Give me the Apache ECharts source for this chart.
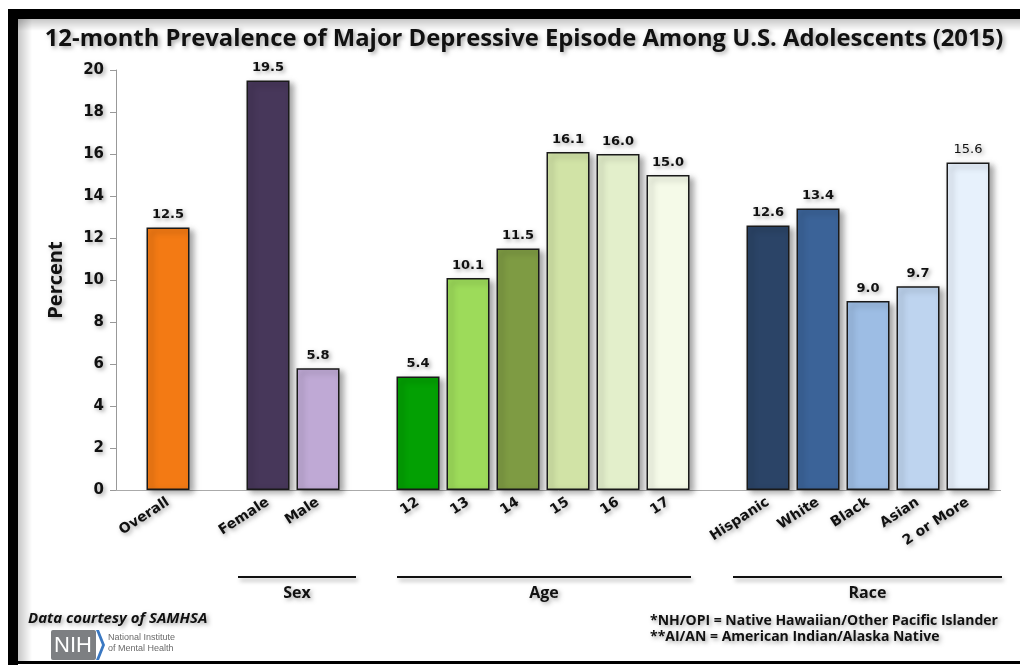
<!DOCTYPE html>
<html>
<head>
<meta charset="utf-8">
<script src="https://cdn.jsdelivr.net/npm/echarts@6/dist/echarts.min.js"></script>
<style>
  html, body { margin: 0; padding: 0; background: #fff; }
  #main { width: 1020px; height: 665px; }
</style>
</head>
<body>
<div id="main"></div>
<script>
// data
const overallLabels = ['Overall']
const overallValues = [12.5]
const sexLabels = ['Female', 'Male']
const sexValues = [19.5, 5.8]
const ageLabels = ['12', '13', '14', '15', '16', '17']
const ageValues = [5.4, 10.1, 11.5, 16.1, 16.0, 15.0]
const raceLabels = ['Hispanic', 'White', 'Black', 'Asian', '2 or More']
const raceValues = [12.6, 13.4, 9.0, 9.7, 15.6]
const groupNames = ['Sex', 'Age', 'Race']
const yTicks = [0, 2, 4, 6, 8, 10, 12, 14, 16, 18, 20]

// bar colours, same order as the labels
const overallColors = ['#F37A14']
const sexColors = ['#47375A', '#BFA9D5']
const ageColors = ['#03A003', '#9DDB5A', '#7E9B43', '#D1E3A6', '#E3EFCB', '#F5FAE8']
const raceColors = ['#2B4467', '#3B6398', '#9DBDE4', '#BED4EF', '#E7F1FC']

const shadow = { textShadowColor: 'rgba(0,0,0,0.35)', textShadowBlur: 4, textShadowOffsetX: 2, textShadowOffsetY: 2 }

// build the slots: blank spacer between the groups
const categories = []
const barData = []
const groupSpan = {}
let spacer = 0
function addSpacer() {
    categories.push('_s' + (spacer++))
    barData.push(null)
}
function addGroup(name, labels, values, colors) {
    const start = categories.length
    labels.forEach((l, i) => {
        categories.push(l)
        barData.push({
            value: values[i],
            itemStyle: { color: colors[i] },
            label: { fontWeight: l === '2 or More' ? 'normal' : 'bold' }
        })
    })
    if (name) groupSpan[name] = [start, categories.length - 1]
}
addSpacer()
addGroup(null, overallLabels, overallValues, overallColors)
addSpacer()
addGroup('Sex', sexLabels, sexValues, sexColors)
addSpacer()
addGroup('Age', ageLabels, ageValues, ageColors)
addSpacer()
addGroup('Race', raceLabels, raceValues, raceColors)

const myChart = echarts.init(document.querySelector('#main'))

const option = {
    animation: false,
    title: {
        text: '12-month Prevalence of Major Depressive Episode Among U.S. Adolescents (2015)',
        left: 519,
        textAlign: 'center',
        top: 22,
        textStyle: {
            fontFamily: 'Open Sans',
            fontWeight: 'bold',
            fontSize: 23.8,
            color: '#111',
            ...shadow
        }
    },
    grid: {
        left: 93,
        width: 900,
        top: 70,
        bottom: 175
    },
    xAxis: {
        type: 'category',
        data: categories,
        axisLine: { show: false },
        axisTick: { show: false },
        axisLabel: {
            interval: 0,
            rotate: 33,
            margin: 11,
            fontFamily: 'DejaVu Sans',
            fontWeight: 'bold',
            fontSize: 14,
            color: '#111',
            ...shadow,
            formatter: v => v.startsWith('_s') ? '' : v
        }
    },
    yAxis: {
        type: 'value',
        min: 0,
        max: 20,
        interval: 2,
        offset: -23,
        name: 'Percent',
        nameLocation: 'middle',
        nameGap: 50,
        nameRotate: 90,
        nameTextStyle: {
            fontFamily: 'Open Sans',
            fontWeight: 'bold',
            fontSize: 20,
            color: '#111',
            ...shadow
        },
        splitLine: { show: false },
        axisLine: { show: true, lineStyle: { color: '#999' } },
        axisTick: { show: true, length: 6, lineStyle: { color: '#999' } },
        axisLabel: {
            margin: 12,
            fontFamily: 'DejaVu Sans',
            fontWeight: 'bold',
            fontSize: 15,
            color: '#111',
            ...shadow,
            formatter: v => yTicks.includes(v) ? String(v) : ''
        }
    },
    series: [{
        type: 'bar',
        data: barData,
        barWidth: 43,
        itemStyle: {
            borderColor: '#1a1a1a',
            borderWidth: 1.5,
            shadowColor: 'rgba(0,0,0,0.35)',
            shadowBlur: 6,
            shadowOffsetX: 4,
            shadowOffsetY: 3
        },
        label: {
            show: true,
            position: 'top',
            distance: 6,
            fontFamily: 'DejaVu Sans',
            fontSize: 13,
            color: '#111',
            ...shadow,
            formatter: p => p.value.toFixed(1)
        }
    }]
}
myChart.setOption(option)

// frame, footer, baseline and group brackets
function initGraphic() {
    const base = myChart.convertToPixel({ yAxisIndex: 0 }, 0)
    const els = [
        { type: 'rect', shape: { x: 8, y: 9, width: 1012, height: 10 }, style: { fill: '#000' } },
        { type: 'rect', shape: { x: 8, y: 9, width: 10, height: 656 }, style: { fill: '#000' } },
        { type: 'rect', shape: { x: 8, y: 661, width: 1012, height: 3 }, style: { fill: '#000' } },
        {
            type: 'rect', shape: { x: 18, y: 19, width: 14, height: 642 },
            style: { fill: new echarts.graphic.LinearGradient(0, 0, 1, 0, [{ offset: 0, color: 'rgba(0,0,0,0.22)' }, { offset: 1, color: 'rgba(0,0,0,0)' }]) }
        },
        {
            type: 'rect', shape: { x: 18, y: 19, width: 1002, height: 12 },
            style: { fill: new echarts.graphic.LinearGradient(0, 0, 0, 1, [{ offset: 0, color: 'rgba(0,0,0,0.22)' }, { offset: 1, color: 'rgba(0,0,0,0)' }]) }
        },
        // x baseline, from the y axis to the right end
        { type: 'line', z: 1, shape: { x1: 116, y1: base + 0.5, x2: 1001, y2: base + 0.5 }, style: { stroke: '#aaa', lineWidth: 1 } },
        {
            type: 'text', x: 28, y: 619,
            style: { text: 'Data courtesy of SAMHSA', font: 'italic bold 15px "Open Sans"', fill: '#111', verticalAlign: 'middle', ...shadow }
        },
        { type: 'rect', shape: { x: 51, y: 630, width: 45, height: 30, r: 2 }, style: { fill: '#7d7f82' } },
        { type: 'polygon', shape: { points: [[96, 630], [99, 630], [105, 645], [99, 660], [96, 660], [102, 645]] }, style: { fill: '#3a78c2' } },
        { type: 'text', x: 73, y: 646, style: { text: 'NIH', font: '22px "Liberation Sans"', fill: '#fff', align: 'center', verticalAlign: 'middle' } },
        { type: 'text', x: 108, y: 638, style: { text: 'National Institute', font: '9px "Liberation Sans"', fill: '#6b6b6b', verticalAlign: 'middle' } },
        { type: 'text', x: 108, y: 649, style: { text: 'of Mental Health', font: '9px "Liberation Sans"', fill: '#6b6b6b', verticalAlign: 'middle' } },
        {
            type: 'text', x: 650, y: 621,
            style: { text: '*NH/OPI = Native Hawaiian/Other Pacific Islander', font: 'bold 14px "Open Sans"', fill: '#111', verticalAlign: 'middle', ...shadow }
        },
        {
            type: 'text', x: 650, y: 637,
            style: { text: '**AI/AN = American Indian/Alaska Native', font: 'bold 14px "Open Sans"', fill: '#111', verticalAlign: 'middle', ...shadow }
        }
    ]
    const pads = { Sex: [30, 38], Age: [21, 23], Race: [35, 34] }
    groupNames.forEach(g => {
        const [a, b] = groupSpan[g]
        const x1 = myChart.convertToPixel({ xAxisIndex: 0 }, a) - pads[g][0]
        const x2 = myChart.convertToPixel({ xAxisIndex: 0 }, b) + pads[g][1]
        els.push({
            type: 'line', shape: { x1: x1, y1: 577, x2: x2, y2: 577 },
            style: { stroke: '#111', lineWidth: 2, shadowColor: 'rgba(0,0,0,0.35)', shadowBlur: 4, shadowOffsetX: 2, shadowOffsetY: 3 }
        })
        els.push({
            type: 'text', x: (x1 + x2) / 2, y: 593,
            style: { text: g, font: 'bold 16px "Open Sans"', fill: '#111', align: 'center', verticalAlign: 'middle', ...shadow }
        })
    })
    myChart.setOption({ graphic: els })
}
initGraphic()
</script>
</body>
</html>
